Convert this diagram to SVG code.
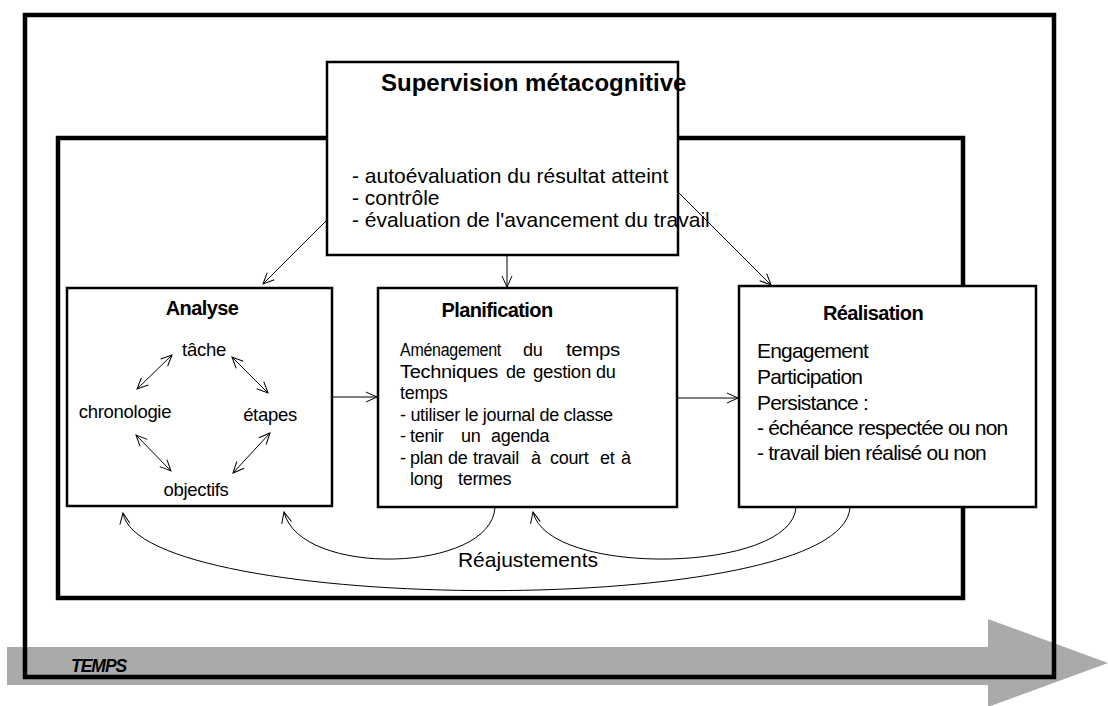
<svg xmlns="http://www.w3.org/2000/svg" width="1108" height="706" viewBox="0 0 1108 706">
<style>
text{font-family:"Liberation Sans",Arial,Helvetica,sans-serif;fill:#000}
.frame{fill:none;stroke:#000;stroke-width:4.5}
.box{fill:#fff;stroke:#000;stroke-width:2.5}
.title{font-weight:bold;font-size:20px;letter-spacing:-0.6px;text-anchor:middle}
.sup{font-size:21px}
.an{font-size:18.5px;letter-spacing:-0.3px;text-anchor:middle}
.pl{font-size:18px;letter-spacing:-0.3px}
.re{font-size:21px;letter-spacing:-0.8px}
.con{fill:none;stroke:#000;stroke-width:1}
</style>
<defs>
<marker id="ah" markerUnits="userSpaceOnUse" markerWidth="14" markerHeight="12" refX="12" refY="6" orient="auto">
<path d="M1,1 L12,6 L1,11" fill="none" stroke="#000" stroke-width="1"/>
</marker>
<marker id="ahs" markerUnits="userSpaceOnUse" markerWidth="14" markerHeight="12" refX="12" refY="6" orient="auto-start-reverse">
<path d="M1,1 L12,6 L1,11" fill="none" stroke="#000" stroke-width="1"/>
</marker>
</defs>
<rect width="1108" height="706" fill="#fff"/>
<g id="temps">
<polygon points="7,647 988,647 988,619 1108,663 988,707 988,685 7,685" fill="#aaaaaa"/>
<text x="71" y="672" font-size="17.5" font-weight="bold" font-style="italic" letter-spacing="-1">TEMPS</text>
</g>
<g id="frames">
<rect class="frame" x="25" y="15" width="1029" height="662"/>
<rect class="frame" x="58" y="138" width="905" height="460"/>
</g>
<g id="node-supervision">
<rect class="box" x="327" y="62" width="351" height="193"/>
<text x="381" y="91" font-size="24" font-weight="bold">Supervision métacognitive</text>
<text class="sup" x="352" y="183">- autoévaluation du résultat atteint</text>
<text class="sup" x="352" y="205">- contrôle</text>
<text class="sup" x="352" y="226.5">- évaluation de l'avancement du travail</text>
</g>
<g id="node-analyse">
<rect class="box" x="67" y="288" width="265" height="218"/>
<text class="title" x="202" y="315">Analyse</text>
<text class="an" x="204" y="356">tâche</text>
<text class="an" x="125" y="418">chronologie</text>
<text class="an" x="270" y="421">étapes</text>
<text class="an" x="196" y="496">objectifs</text>
</g>
<g id="node-planification">
<rect class="box" x="378" y="288" width="299" height="219"/>
<text class="title" x="497" y="317">Planification</text>
<text class="pl" x="400" y="356" textLength="101" lengthAdjust="spacingAndGlyphs">Aménagement</text>
<text class="pl" x="523" y="356">du</text>
<text class="pl" x="566" y="356" textLength="54" lengthAdjust="spacingAndGlyphs">temps</text>
<text class="pl" x="400" y="377.5" textLength="98" lengthAdjust="spacingAndGlyphs">Techniques</text>
<text class="pl" x="506" y="377.5">de</text>
<text class="pl" x="533" y="377.5" textLength="58" lengthAdjust="spacingAndGlyphs">gestion</text>
<text class="pl" x="596" y="377.5">du</text>
<text class="pl" x="400" y="399">temps</text>
<text class="pl" x="400" y="420.5">- utiliser le journal de classe</text>
<text class="pl" y="442"><tspan x="400">-</tspan><tspan x="410">tenir</tspan><tspan x="461">un</tspan><tspan x="491">agenda</tspan></text>
<text class="pl" y="463.5"><tspan x="400">-</tspan><tspan x="410">plan</tspan><tspan x="448">de</tspan><tspan x="473">travail</tspan><tspan x="531">à</tspan><tspan x="550">court</tspan><tspan x="600">et</tspan><tspan x="621">à</tspan></text>
<text class="pl" y="485"><tspan x="410">long</tspan><tspan x="458">termes</tspan></text>
</g>
<g id="node-realisation">
<rect class="box" x="739" y="286" width="297" height="221"/>
<text class="title" x="873" y="320">Réalisation</text>
<text class="re" x="757" y="358">Engagement</text>
<text class="re" x="757" y="384">Participation</text>
<text class="re" x="757" y="410">Persistance :</text>
<text class="re" x="757" y="435">- échéance respectée ou non</text>
<text class="re" x="757" y="460">- travail bien réalisé ou non</text>
</g>
<g id="connectors">
<line class="con" x1="327" y1="220" x2="263" y2="284" marker-end="url(#ah)"/>
<line class="con" x1="507" y1="255" x2="507" y2="287" marker-end="url(#ah)"/>
<line class="con" x1="678" y1="192" x2="771" y2="285" marker-end="url(#ah)"/>
<line class="con" x1="332" y1="397" x2="377" y2="397" marker-end="url(#ah)"/>
<line class="con" x1="677" y1="398" x2="738" y2="398" marker-end="url(#ah)"/>
<line class="con" x1="172" y1="355" x2="137" y2="389" marker-start="url(#ahs)" marker-end="url(#ah)"/>
<line class="con" x1="232" y1="357" x2="268" y2="393" marker-start="url(#ahs)" marker-end="url(#ah)"/>
<line class="con" x1="136" y1="435" x2="171" y2="471" marker-start="url(#ahs)" marker-end="url(#ah)"/>
<line class="con" x1="270" y1="433" x2="233" y2="473" marker-start="url(#ahs)" marker-end="url(#ah)"/>
<path class="con" d="M495,507 C492,573 300,578 284,512" marker-end="url(#ah)"/>
<path class="con" d="M796,507 C793,573 548,578 533,512" marker-end="url(#ah)"/>
<path class="con" d="M850,507 C845,620 140,615 123,513" marker-end="url(#ah)"/>
<text x="528" y="567" font-size="21" text-anchor="middle">Réajustements</text>
</g>
</svg>
